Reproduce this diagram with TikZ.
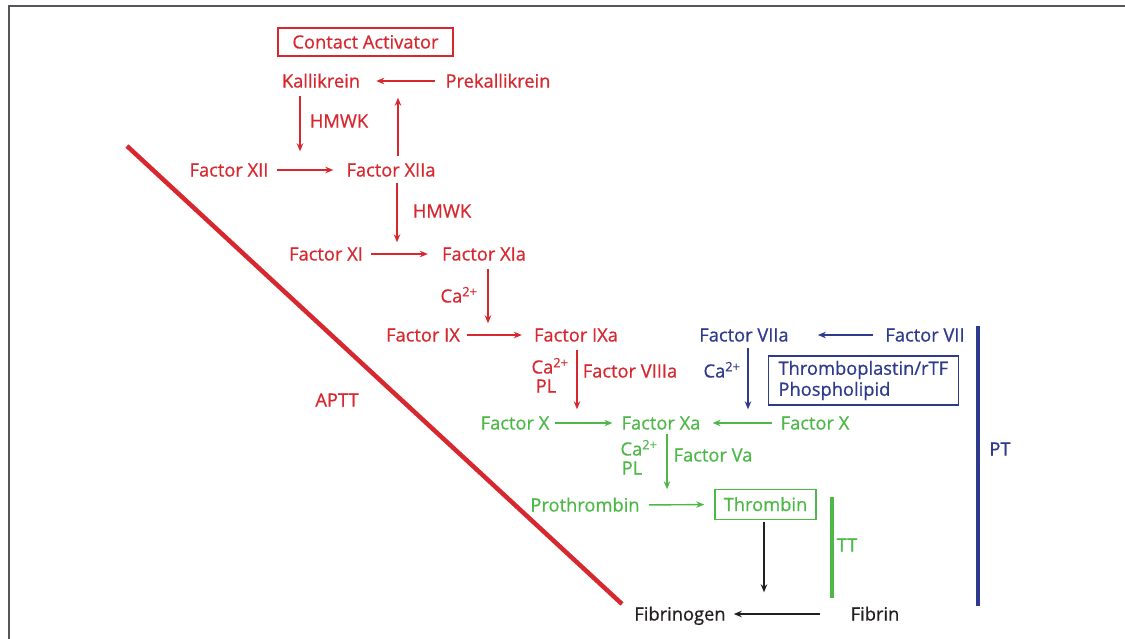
\documentclass[tikz,border=0pt]{standalone}
\usepackage{fontspec}
\setmainfont{Open Sans}[FakeBold=0.7,BoldFont=Open Sans]
\usetikzlibrary{arrows.meta}
\definecolor{cred}{HTML}{D7282F}
\definecolor{cgreen}{HTML}{4DB848}
\definecolor{cblue}{HTML}{2E3A8C}
\definecolor{cblack}{HTML}{231F20}
\definecolor{cframe}{HTML}{55555C}
\begin{document}
\begin{tikzpicture}[x=1pt,y=-1pt,
  every node/.style={font=\fontsize{18.3}{22}\selectfont\bfseries, inner sep=0pt, text height=13pt, text depth=0pt},
  arr/.style={line width=1.4pt, -{Stealth[length=8pt,width=6.5pt]}},
  boxed/.style={draw, line width=1.6pt},
  bar/.style={line width=4pt}
]
\useasboundingbox (0,0) rectangle (1125,638);
\draw[cframe, line width=2.5pt] (9,640) -- (9,6) -- (1127,6);

% red nodes
\node[boxed, cred, minimum width=175pt, minimum height=28pt] (ca) at (365.5,42) {Contact Activator};
\node[cred] (kal) at (321,81) {Kallikrein};
\node[cred] (pre) at (498,81) {Prekallikrein};
\node[cred] (hm1) at (339,121) {HMWK};
\node[cred] (f12) at (229,170) {Factor XII};
\node[cred] (f12a) at (391,170) {Factor XIIa};
\node[cred] (hm2) at (442,211) {HMWK};
\node[cred] (f11) at (326,254) {Factor XI};
\node[cred] (f11a) at (484,254) {Factor XIa};
\node[cred] (ca1) at (459,296) {Ca\textsuperscript{2+}};
\node[cred] (f9) at (423,335) {Factor IX};
\node[cred] (f9a) at (576,335) {Factor IXa};
\node[cred] (ca2) at (550,367) {Ca\textsuperscript{2+}};
\node[cred] (pl2) at (546,386) {PL};
\node[cred] (f8a) at (630,371) {Factor VIIIa};
\node[cred] (aptt) at (337,400) {APTT};

% blue nodes
\node[cblue] (f7a) at (744,335) {Factor VIIa};
\node[cblue] (f7) at (925,335) {Factor VII};
\node[cblue] (ca3) at (722,371) {Ca\textsuperscript{2+}};
\node[boxed, cblue, align=left, text width=170pt, inner xsep=10pt, minimum height=49pt, text height=, text depth=] (tp) at (863.5,380.5) {Thromboplastin/rTF\\[-1pt]Phospholipid};
\node[cblue] (pt) at (1000,449) {PT};

% green nodes
\node[cgreen] (fxl) at (515,423) {Factor X};
\node[cgreen] (fxa) at (661,423) {Factor Xa};
\node[cgreen] (fxr) at (815,423) {Factor X};
\node[cgreen] (ca4) at (639,449) {Ca\textsuperscript{2+}};
\node[cgreen] (pl4) at (632,468) {PL};
\node[cgreen] (f5a) at (713,455) {Factor Va};
\node[cgreen] (pro) at (585,505) {Prothrombin};
\node[boxed, cgreen, minimum width=101pt, minimum height=30pt] (thr) at (765.5,504.5) {Thrombin};
\node[cgreen] (tt) at (847,545) {TT};

% black nodes
\node[cblack] (fgn) at (680,614) {Fibrinogen};
\node[cblack] (fbn) at (875,614) {Fibrin};

% bars
\coordinate (apttA) at (127,146);
\coordinate (apttB) at (622,604);
\draw[bar, cred, line width=4.5pt] (apttA) -- (apttB);
\coordinate (ptA) at (978,326);
\coordinate (ptB) at (978,606);
\draw[bar, cblue] (ptA) -- (ptB);
\coordinate (ttA) at (832,497);
\coordinate (ttB) at (832,598);
\draw[bar, cgreen] (ttA) -- (ttB);

% red arrows
\draw[arr, cred, shorten <=10pt, shorten >=16pt] (pre.west) -- (kal.east);
\draw[arr, cred, shorten <=8pt, shorten >=12pt] (kal.south -| 300,0) -- (f12.north -| 300,0);
\draw[arr, cred, shorten <=7pt, shorten >=10pt] (f12a.north -| 398,0) -- (kal.south -| 398,0);
\draw[arr, cred, shorten <=8pt, shorten >=13pt] (f12.east) -- (f12a.west);
\draw[arr, cred, shorten <=6pt, shorten >=5pt] (f12a.south -| 397,0) -- (f11.north -| 397,0);
\draw[arr, cred, shorten <=8pt, shorten >=14pt] (f11.east) -- (f11a.west);
\draw[arr, cred, shorten <=8pt, shorten >=5pt] (f11a.south -| 488,0) -- (f9.north -| 488,0);
\draw[arr, cred, shorten <=7pt, shorten >=12pt] (f9.east) -- (f9a.west);
\draw[arr, cred, shorten <=8pt, shorten >=7pt] (f9a.south -| 577,0) -- (fxa.north -| 577,0);

% blue arrows
\draw[arr, cblue, shorten <=12pt, shorten >=29pt] (f7.west) -- (f7a.east);
\draw[arr, cblue, shorten <=6pt, shorten >=7pt] (f7a.south -| 748,0) -- (fxa.north -| 748,0);

% green arrows
\draw[arr, cgreen, shorten <=8pt, shorten >=12pt] (fxr.west) -- (fxa.east);
\draw[arr, cgreen, shorten <=5pt, shorten >=9pt] (fxl.east) -- (fxa.west);
\draw[arr, cgreen, shorten <=4pt, shorten >=9pt] (fxa.south -| 667,0) -- (pro.north -| 667,0);
\draw[arr, cgreen, shorten <=9pt, shorten >=10pt] (pro.east) -- (thr.west);

% black arrows
\draw[arr, cblack, shorten <=2pt, shorten >=15pt] (thr.south -| 764,0) -- (fgn.north -| 764,0);
\draw[arr, cblack, shorten <=30pt, shorten >=8pt] (fbn.west) -- (fgn.east);
\end{tikzpicture}
\end{document}
